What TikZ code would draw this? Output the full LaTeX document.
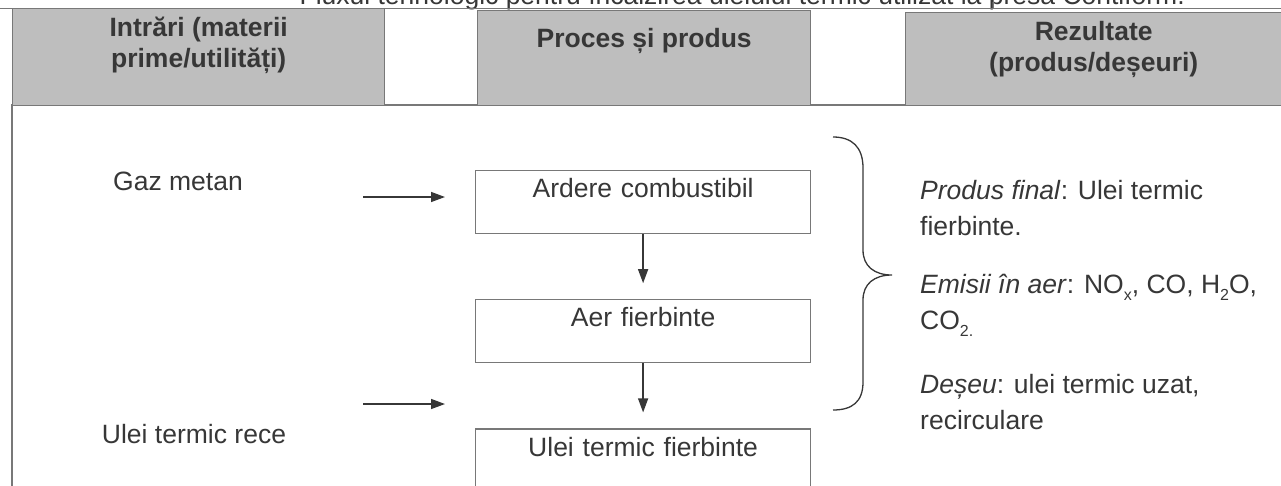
\documentclass[tikz,border=0pt]{standalone}
\usepackage{fontspec}
\setmainfont{Liberation Sans}
\usetikzlibrary{arrows.meta,positioning}
\definecolor{headgray}{RGB}{190,190,190}
\definecolor{linegray}{RGB}{120,120,120}
\definecolor{inkgray}{RGB}{55,55,55}
\newcommand{\chemsub}[1]{\raisebox{-0.25em}{\fontsize{16}{16}\selectfont #1}}
\begin{document}
\begin{tikzpicture}[x=1pt,y=-1pt,
    header/.style={draw=linegray,fill=headgray,line width=1.4pt,anchor=north west,inner sep=0pt},
    headtext/.style={font=\bfseries\fontsize{26.5}{31}\selectfont,text=inkgray,align=center,inner sep=0pt},
    procbox/.style={draw=linegray,line width=1.2pt,anchor=north west,inner sep=0pt,
        text width=335pt,align=center,text height=27pt,text depth=36pt,
        font=\fontsize{26.5}{31}\selectfont,text=inkgray},
    plain/.style={font=\fontsize{26.5}{36}\selectfont,text=inkgray,inner sep=0pt},
    flow/.style={-{Triangle[length=14pt,width=10pt]},line width=1.4pt,draw=inkgray}]
   \useasboundingbox (0,0) rectangle (1281,485);
   % caption line, cut off by the page edge
   \node[plain,anchor=base east] (title) at (1185,4) {Fluxul tehnologic pentru încălzirea uleiului termic utilizat la presa Contiform.};
   \draw[linegray,line width=1pt] (0,8) -- (1281,8);
   \draw[linegray,line width=1pt] (993,0) -- (993,8);
   % frame and headers
   \draw[linegray,line width=1.2pt] (1300,105) -- (12,105) -- (12,490);
   \node[header,minimum width=372pt,minimum height=97pt] (hIn) at (12,8) {};
   \node[header,minimum width=333pt,minimum height=95pt] (hProc) at (477,10) {};
   \node[header,minimum width=400pt,minimum height=93pt] (hOut) at (905,12) {};
   \node[headtext,below=9pt of hIn.north] (hInT) {Intrări (materii\\prime/utilități)};
   \node[headtext,below=18pt of hProc.north] (hProcT) {Proces și produs};
   \node[headtext,below=9pt of hOut.north,xshift=-12pt] (hOutT) {Rezultate\\(produs/deșeuri)};
   % inputs
   \node[plain,anchor=mid] (gaz) at (178,188) {Gaz metan};
   \node[plain,anchor=mid] (uleiR) at (194,441) {Ulei termic rece};
   % process
   \node[procbox] (ardere) at (475,170) {Ardere combustibil};
   \node[procbox,below=65pt of ardere] (aer) {Aer fierbinte};
   \node[procbox,below=65pt of aer] (uleiF) {Ulei termic fierbinte};
   \coordinate (gazA) at (363,197);
   \coordinate (gazB) at (445,197);
   \coordinate (uleiA) at (363,404);
   \coordinate (uleiB) at (445,404);
   \draw[flow] (gazA) -- (gazB);
   \draw[flow] (uleiA) -- (uleiB);
   \draw[flow,shorten >=16pt] (ardere) -- (aer);
   \draw[flow,shorten >=16pt] (aer) -- (uleiF);
   % brace and results
   \draw[inkgray,line width=1.3pt] (833,137) .. controls (852,137) and (863,147) .. (863,168)
      -- (863,250) .. controls (863,266) and (874,275) .. (892,275)
      .. controls (874,275) and (863,284) .. (863,300)
      -- (863,382) .. controls (863,402) and (852,410) .. (833,410);
   \node[plain,anchor=north west,align=left] (prod) at (920,180) {\textit{Produs final}: Ulei termic\\fierbinte.};
   \node[plain,anchor=north west,align=left] (emis) at (920,274) {\textit{Emisii în aer}: NO\chemsub{x}, CO, H\chemsub{2}O,\\CO\chemsub{2.}};
   \node[plain,anchor=north west,align=left] (deseu) at (920,374) {\textit{Deșeu}: ulei termic uzat,\\recirculare};
\end{tikzpicture}
\end{document}
